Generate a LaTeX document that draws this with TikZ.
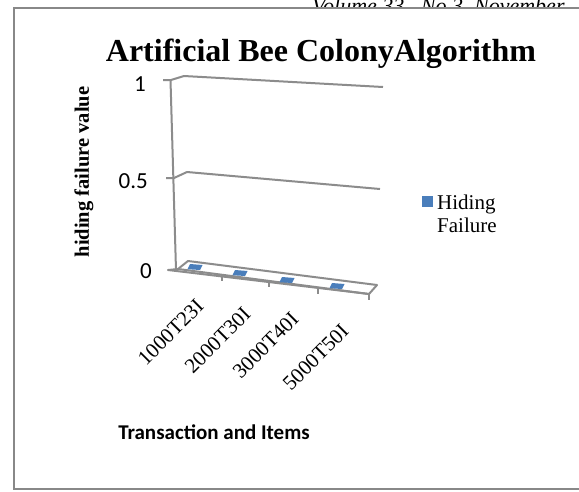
\documentclass[tikz,border=0pt]{standalone}
\usepackage{fontspec}
\setmainfont{Liberation Serif}
\newfontfamily\calib{Carlito}
\definecolor{framegray}{HTML}{888888}
\definecolor{gridgray}{HTML}{8C8C8C}
\definecolor{barblue}{HTML}{4A7EBB}
\tikzset{
  gridline/.style={draw=gridgray, line width=2, line join=round},
  ticklbl/.style={font=\calib\fontsize{23}{26}\selectfont, inner sep=0, anchor=east},
  catlbl/.style={font=\fontsize{21}{23}\selectfont, inner sep=0, anchor=east, rotate=45},
  legtxt/.style={font=\fontsize{21}{23}\selectfont, inner sep=0, anchor=base west},
}
\begin{document}
\begin{tikzpicture}[x=1pt,y=-1pt]
\useasboundingbox (0,0) rectangle (579,491);
\clip (0,0) rectangle (579,491);
% header text (mostly hidden behind chart box)
\node[anchor=base west, font=\itshape\fontsize{22}{26}\selectfont, inner sep=0] (hdr) at (312,13) {Volume 33– No.3, November};
% chart frame
\draw[framegray, fill=white, line width=2] (14,8) rectangle (600,489);
% title
\node[anchor=base, font=\bfseries\fontsize{32}{36}\selectfont, inner sep=0] (title) at (321,61) {Artificial Bee ColonyAlgorithm};
% y-axis title
\node[rotate=90, font=\bfseries\fontsize{20.5}{22}\selectfont, inner sep=0] (ytitle) at (84,172) {hiding failure value};
% tick labels
\node[ticklbl] (t1) at (146,84) {1};
\node[ticklbl] (t05) at (148,181) {0.5};
\node[ticklbl] (t0) at (152,271) {0};
% vertical axis
\draw[gridline] (170.5,80) -- (176,270);
% gridline 1
\draw[gridline] (163,80) -- (171,80) -- (184,76) -- (383,87);
% gridline 0.5
\draw[gridline] (166,178) -- (174,178) -- (187,172) -- (380,189);
% floor
\draw[gridline] (168,270) -- (178,269) -- (188,261) -- (377,285) -- (369,294) -- cycle;
\draw[gridline] (178,269) -- (369,294);
% x ticks
\foreach \x/\y in {222/275, 269/281, 318/288, 369/294}
  \draw[gridline] (\x,\y) -- (\x,\y+6);
% data markers
\foreach \cx/\cy in {195/267, 240/273, 287/280, 337/286}
  \fill[barblue] (\cx-7.5,\cy+2.2) -- (\cx+5,\cy+3) -- (\cx+7.5,\cy-2) -- (\cx-5,\cy-3) -- cycle;
% category labels
\node[catlbl] (c1) at (200,303) {1000T23I};
\node[catlbl] (c2) at (247,311) {2000T30I};
\node[catlbl] (c3) at (295,316) {3000T40I};
\node[catlbl] (c4) at (345,328) {5000T50I};
% legend
\fill[barblue] (422,196) rectangle (433,207);
\node[legtxt] (leg1) at (437,209) {Hiding};
\node[legtxt] (leg2) at (437,232) {Failure};
% x-axis title
\node[font=\calib\bfseries\fontsize{21}{24}\selectfont, inner sep=0] (xtitle) at (214,432) {Transaction and Items};
\end{tikzpicture}
\end{document}
